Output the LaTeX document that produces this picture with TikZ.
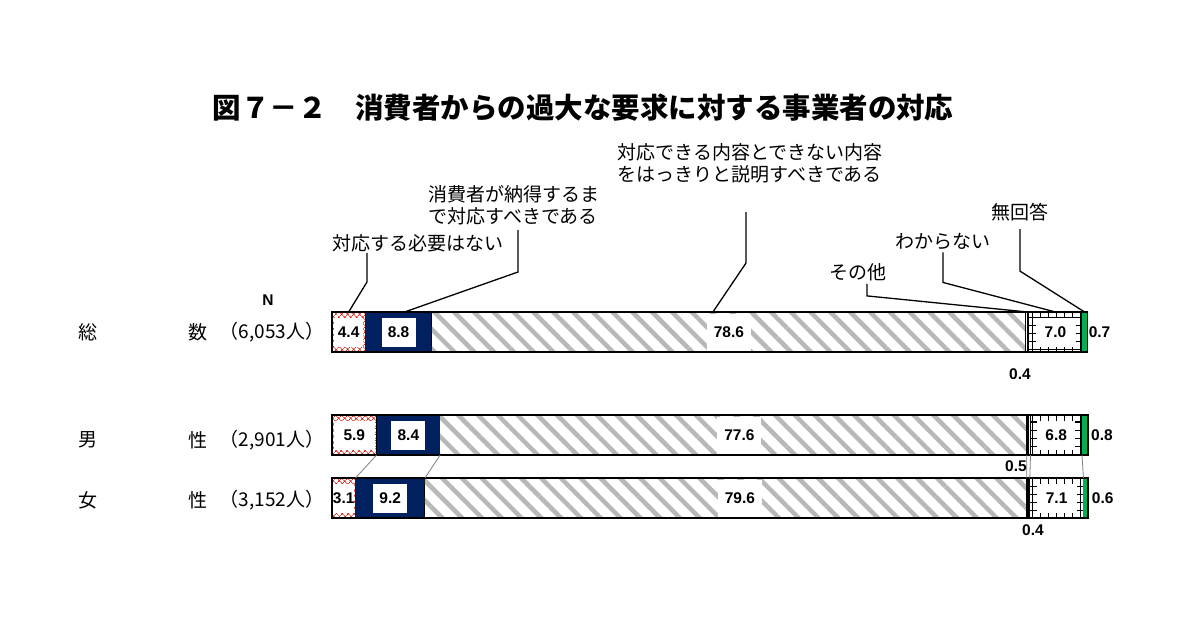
\documentclass[tikz,border=0pt]{standalone}
\usepackage{fontspec}
\newfontfamily\jpfont{Noto Sans CJK JP}
\newfontfamily\numfont{Liberation Sans}
\usetikzlibrary{positioning,patterns.meta}

\definecolor{navybar}{RGB}{0,32,96}
\definecolor{greenbar}{RGB}{0,176,80}
\definecolor{redmark}{RGB}{215,40,30}

\def\barleft{332}
\def\barscale{7.56}
\def\barh{40}

\tikzset{
  noneed/.style={preaction={fill=white}, pattern={Hatch[angle=45,distance=4pt,line width=0.7pt]}, pattern color=redmark},
  untilok/.style={fill=navybar},
  explain/.style={preaction={fill=white}, pattern={Lines[angle=-45,distance=14pt,line width=4.5pt]}, pattern color=black!28},
  other/.style={preaction={fill=white}, pattern={Lines[angle=90,distance=1.6pt,line width=0.7pt]}, pattern color=black},
  unknown/.style={preaction={fill=white}, pattern={Hatch[angle=0,distance=8pt,line width=1pt]}, pattern color=black},
  noans/.style={fill=greenbar},
  barline/.style={draw=black, line width=1.2pt},
  valnum/.style={font=\numfont\bfseries\fontsize{15.5}{17}\selectfont, inner sep=1pt},
  valbox/.style={valnum, fill=white, inner sep=0pt, minimum height=29pt, minimum width=#1},
  valbox/.default=30pt,
  leader/.style={draw=black, line width=1.3pt},
  series/.style={draw=black!50, line width=0.8pt},
  catlabel/.style={font=\jpfont\fontsize{19}{22}\selectfont, inner sep=1pt},
  rowlabel/.style={font=\jpfont\fontsize{19}{22}\selectfont, inner sep=0pt},
  titletext/.style={font=\jpfont\bfseries\fontsize{28.5}{32}\selectfont, inner sep=0pt},
}

% one stacked bar: name, top y, list of value/style
\newcommand{\stackbar}[3]{%
  \xdef\sbcur{\barleft}%
  \foreach \v/\sty [count=\i] in {#3} {%
    \pgfmathsetmacro\sbnext{\sbcur+\barscale*\v}%
    \fill[\sty] (\sbcur,#2) rectangle (\sbnext,#2+\barh);
    \draw[barline] (\sbnext,#2) -- (\sbnext,#2+\barh);
    \coordinate (#1-c\i) at ({(\sbcur+\sbnext)/2},#2+\barh/2);
    \coordinate (#1-t\i) at ({(\sbcur+\sbnext)/2},#2);
    \coordinate (#1-rt\i) at (\sbnext,#2);
    \coordinate (#1-rb\i) at (\sbnext,#2+\barh);
    \xdef\sbcur{\sbnext}%
  }%
  \draw[barline] (\barleft,#2) rectangle (\sbcur,#2+\barh);
}

\begin{document}
\begin{tikzpicture}[x=1pt,y=-1pt]
    \useasboundingbox (0,0) rectangle (1200,630);
    \fill[white] (0,0) rectangle (1200,630);

    \node[titletext] (title) at (583,108) {図７－２　消費者からの過大な要求に対する事業者の対応};

    \stackbar{tot}{312}{4.4/noneed,8.8/untilok,78.6/explain,0.4/other,7.0/unknown,0.7/noans}
    \stackbar{man}{415}{5.9/noneed,8.4/untilok,77.6/explain,0.5/other,6.8/unknown,0.8/noans}
    \stackbar{wom}{478}{3.1/noneed,9.2/untilok,79.6/explain,0.4/other,7.1/unknown,0.6/noans}

    \foreach \i in {1,...,5} \draw[series] (man-rb\i) -- (wom-rt\i);

    % row labels
    \node[valnum] (nhead) at (268,300) {N};
    \node[rowlabel] (tot-a) at (88,332) {総};
    \node[rowlabel] (tot-b) at (198,332) {数};
    \node[rowlabel] (tot-n) at (272,332) {（6,053人）};
    \node[rowlabel] (man-a) at (88,440) {男};
    \node[rowlabel] (man-b) at (198,440) {性};
    \node[rowlabel] (man-n) at (272,440) {（2,901人）};
    \node[rowlabel] (wom-a) at (88,500) {女};
    \node[rowlabel] (wom-b) at (198,500) {性};
    \node[rowlabel] (wom-n) at (272,500) {（3,152人）};

    % values
    \node[valbox=29pt] (v-tot1) at (tot-c1) {4.4};
    \node[valbox=34pt] (v-tot2) at (tot-c2) {8.8};
    \node[valbox=44pt, minimum height=37pt] (v-tot3) at (tot-c3) {78.6};
    \node[valnum] (v-tot4) at (1020,374) {0.4};
    \node[valbox=40pt] (v-tot5) at (tot-c5) {7.0};
    \node[valnum, right=3pt of tot-c6] (v-tot6) {0.7};

    \node[valbox=41pt] (v-man1) at (man-c1) {5.9};
    \node[valbox=34pt] (v-man2) at (man-c2) {8.4};
    \node[valbox=44pt, minimum height=37pt] (v-man3) at ([xshift=6pt]man-c3) {77.6};
    \node[valnum] (v-man4) at (1016,466) {0.5};
    \node[valbox=38pt] (v-man5) at (man-c5) {6.8};
    \node[valnum, right=5pt of man-c6] (v-man6) {0.8};

    \node[valbox=21pt] (v-wom1) at (wom-c1) {3.1};
    \node[valbox=34pt] (v-wom2) at (wom-c2) {9.2};
    \node[valbox=44pt, minimum height=37pt] (v-wom3) at ([xshift=14pt]wom-c3) {79.6};
    \node[valnum] (v-wom4) at (1033,530) {0.4};
    \node[valbox=40pt] (v-wom5) at (wom-c5) {7.1};
    \node[valnum, right=5pt of wom-c6] (v-wom6) {0.6};

    % category labels
    \node[catlabel] (need) at (418,243) {対応する必要はない};
    \node[catlabel, align=left] (untilok) at (514,205) {消費者が納得するま\\で対応すべきである};
    \node[catlabel, align=left] (explain) at (750,163) {対応できる内容とできない内容\\をはっきりと説明すべきである};
    \node[catlabel] (other) at (858,272) {その他};
    \node[catlabel] (unknown) at (943,242) {わからない};
    \node[catlabel] (noans) at (1020,212) {無回答};

    \draw[leader] ([xshift=-51pt]need.south) -- ++(0,29) -- (tot-t1);
    \draw[leader] ([xshift=4pt,yshift=-4pt]untilok.south) -- ++(0,42) -- ([xshift=6pt]tot-t2);
    \draw[leader] ([xshift=-4pt,yshift=-28pt]explain.south) -- ++(0,51) -- ([xshift=-16pt]tot-t3);
    \draw[leader] ([xshift=9pt,yshift=-2pt]other.south) -- ++(0,12) -- (tot-t4);
    \draw[leader] ([yshift=-1pt]unknown.south) -- ++(0,30) -- (tot-t5);
    \draw[leader] ([yshift=-7pt]noans.south) -- ++(0,42) -- (tot-t6);
\end{tikzpicture}
\end{document}
